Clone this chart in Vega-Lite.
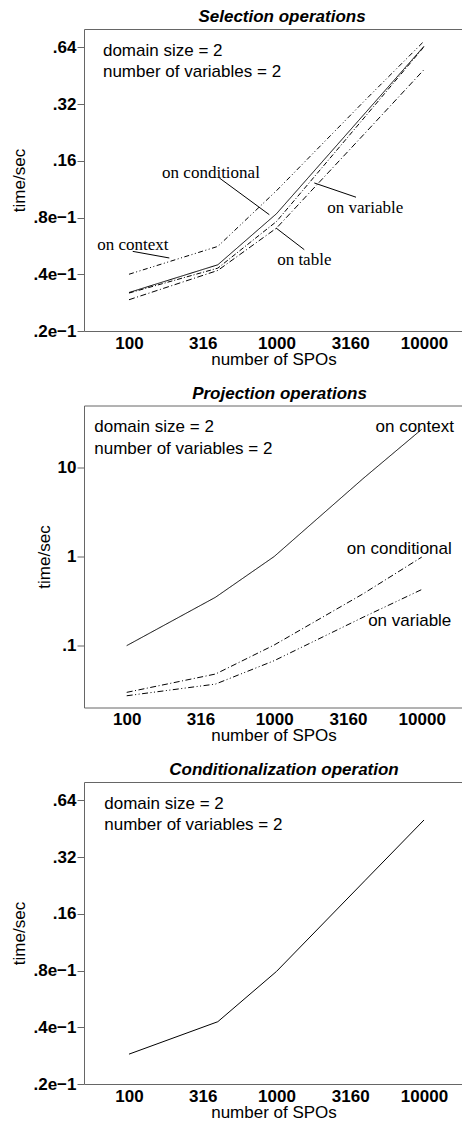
{
  "$schema": "https://vega.github.io/schema/vega-lite/v6.json",
  "autosize": {"type": "pad"},
  "padding": {"left": 10, "top": 8, "right": 0, "bottom": 0},
  "bounds": "flush",
  "spacing": 74.5,
  "resolve": {"scale": {"strokeDash": "independent"}},
  "datasets": {
    "sel": [
      {"n": 100, "t": 0.040, "op": "on context"},
      {"n": 400, "t": 0.0562, "op": "on context"},
      {"n": 1000, "t": 0.111, "op": "on context"},
      {"n": 4000, "t": 0.336, "op": "on context"},
      {"n": 10000, "t": 0.689, "op": "on context"},
      {"n": 100, "t": 0.032, "op": "on conditional"},
      {"n": 400, "t": 0.0449, "op": "on conditional"},
      {"n": 1000, "t": 0.0838, "op": "on conditional"},
      {"n": 4000, "t": 0.287, "op": "on conditional"},
      {"n": 10000, "t": 0.648, "op": "on conditional"},
      {"n": 100, "t": 0.0318, "op": "on variable"},
      {"n": 400, "t": 0.0431, "op": "on variable"},
      {"n": 1000, "t": 0.0762, "op": "on variable"},
      {"n": 4000, "t": 0.275, "op": "on variable"},
      {"n": 10000, "t": 0.644, "op": "on variable"},
      {"n": 100, "t": 0.0293, "op": "on table"},
      {"n": 400, "t": 0.0419, "op": "on table"},
      {"n": 1000, "t": 0.0703, "op": "on table"},
      {"n": 4000, "t": 0.225, "op": "on table"},
      {"n": 10000, "t": 0.487, "op": "on table"}
    ],
    "selInfo": [
      {"n": 66.6, "t": 0.614, "label": "domain size = 2"},
      {"n": 66.6, "t": 0.473, "label": "number of variables = 2"}
    ],
    "selLabels": [
      {"n": 359.6, "t": 0.1377, "label": "on conditional"},
      {"n": 106.1, "t": 0.0570, "label": "on context"},
      {"n": 4000, "t": 0.0897, "label": "on variable"},
      {"n": 1543, "t": 0.0478, "label": "on table"}
    ],
    "selLeaders": [
      {"n": 409.6, "t": 0.1297, "n2": 893.9, "t2": 0.0828},
      {"n": 106, "t": 0.0529, "n2": 187.6, "t2": 0.0488},
      {"n": 3459, "t": 0.1025, "n2": 1804, "t2": 0.1220},
      {"n": 1543, "t": 0.0540, "n2": 992, "t2": 0.0704}
    ],
    "proj": [
      {"n": 100, "t": 0.0993, "op": "on context"},
      {"n": 400, "t": 0.348, "op": "on context"},
      {"n": 1000, "t": 1.0, "op": "on context"},
      {"n": 4000, "t": 7.52, "op": "on context"},
      {"n": 10000, "t": 27, "op": "on context"},
      {"n": 100, "t": 0.0296, "op": "on conditional"},
      {"n": 400, "t": 0.0476, "op": "on conditional"},
      {"n": 1000, "t": 0.101, "op": "on conditional"},
      {"n": 4000, "t": 0.38, "op": "on conditional"},
      {"n": 10000, "t": 0.985, "op": "on conditional"},
      {"n": 100, "t": 0.0271, "op": "on variable"},
      {"n": 400, "t": 0.0367, "op": "on variable"},
      {"n": 1000, "t": 0.0673, "op": "on variable"},
      {"n": 4000, "t": 0.207, "op": "on variable"},
      {"n": 10000, "t": 0.425, "op": "on variable"}
    ],
    "projInfo": [
      {"n": 60.3, "t": 28.8, "label": "domain size = 2"},
      {"n": 60.3, "t": 16.4, "label": "number of variables = 2"}
    ],
    "projLabels": [
      {"n": 8966, "t": 28.8, "label": "on context"},
      {"n": 7047, "t": 1.221, "label": "on conditional"},
      {"n": 8290, "t": 0.19, "label": "on variable"}
    ],
    "cond": [
      {"n": 100, "t": 0.0288},
      {"n": 400, "t": 0.0428},
      {"n": 1000, "t": 0.0791},
      {"n": 4000, "t": 0.241},
      {"n": 10000, "t": 0.503}
    ],
    "condInfo": [
      {"n": 68, "t": 0.6095, "label": "domain size = 2"},
      {"n": 68, "t": 0.4718, "label": "number of variables = 2"}
    ]
  },
  "vconcat": [
    {
      "title": {"text": "Selection operations", "dx": 8.5},
      "width": 379,
      "height": 302,
      "resolve": {"axis": {"x": "independent"}},
      "layer": [
        {
          "data": {"name": "sel"},
          "mark": {"type": "line", "color": "black", "strokeWidth": 1},
          "encoding": {
            "x": {"field": "n", "type": "quantitative", "scale": {"type": "log", "domain": [49.54, 18380], "nice": false},
                  "axis": {"values": [100, 316, 1000, 3160, 10000], "format": "d", "title": "number of SPOs"}},
            "y": {"field": "t", "type": "quantitative", "scale": {"type": "log", "domain": [0.02, 0.8], "nice": false},
                  "axis": {"values": [0.02, 0.04, 0.08, 0.16, 0.32, 0.64], "title": "time/sec",
                           "labelExpr": "datum.value < 0.1 ? '.' + round(datum.value*100) + 'e\u22121' : '.' + round(datum.value*100)"}},
            "strokeDash": {"field": "op", "type": "nominal", "legend": null,
                           "scale": {"domain": ["on context", "on conditional", "on variable", "on table"],
                                     "range": [[5, 2.5, 1, 2.5, 1, 2.5], [1, 0], [5, 2, 1, 2], [6, 2.5, 1, 2.5]]}}
          }
        },
        {
          "data": {"name": "selInfo"},
          "mark": {"type": "text", "align": "left", "baseline": "middle", "font": "Liberation Sans", "fontSize": 17, "color": "black"},
          "encoding": {
            "x": {"field": "n", "type": "quantitative", "scale": {"type": "log", "domain": [49.54, 18380], "nice": false},
                  "axis": {"orient": "top", "labels": false, "ticks": false, "title": null, "domain": true}},
            "y": {"field": "t", "type": "quantitative"},
            "text": {"field": "label"}
          }
        },
        {
          "data": {"name": "selLabels"},
          "mark": {"type": "text", "align": "center", "baseline": "middle", "font": "Liberation Serif", "fontSize": 17, "color": "black"},
          "encoding": {
            "x": {"field": "n", "type": "quantitative", "axis": null},
            "y": {"field": "t", "type": "quantitative"},
            "text": {"field": "label"}
          }
        },
        {
          "data": {"name": "selLeaders"},
          "mark": {"type": "rule", "color": "black", "strokeWidth": 1},
          "encoding": {
            "x": {"field": "n", "type": "quantitative", "axis": null},
            "y": {"field": "t", "type": "quantitative"},
            "x2": {"field": "n2"},
            "y2": {"field": "t2"}
          }
        }
      ]
    },
    {
      "title": {"text": "Projection operations", "dx": 6},
      "width": 379,
      "height": 302,
      "resolve": {"axis": {"x": "independent"}},
      "layer": [
        {
          "data": {"name": "proj"},
          "mark": {"type": "line", "color": "black", "strokeWidth": 1},
          "encoding": {
            "x": {"field": "n", "type": "quantitative", "scale": {"type": "log", "domain": [51.35, 19040], "nice": false},
                  "axis": {"values": [100, 316, 1000, 3160, 10000], "format": "d", "title": "number of SPOs"}},
            "y": {"field": "t", "type": "quantitative", "scale": {"type": "log", "domain": [0.02, 50], "nice": false},
                  "axis": {"values": [0.1, 1, 10], "title": "time/sec",
                           "labelExpr": "datum.value < 1 ? '.1' : format(datum.value, 'd')"}},
            "strokeDash": {"field": "op", "type": "nominal", "legend": null,
                           "scale": {"domain": ["on context", "on conditional", "on variable"],
                                     "range": [[1, 0], [6, 2.5, 1, 2.5], [6, 2.5, 1, 2.5, 1, 2.5]]}}
          }
        },
        {
          "data": {"name": "projInfo"},
          "mark": {"type": "text", "align": "left", "baseline": "middle", "font": "Liberation Sans", "fontSize": 17, "color": "black"},
          "encoding": {
            "x": {"field": "n", "type": "quantitative", "scale": {"type": "log", "domain": [51.35, 19040], "nice": false},
                  "axis": {"orient": "top", "labels": false, "ticks": false, "title": null, "domain": true}},
            "y": {"field": "t", "type": "quantitative"},
            "text": {"field": "label"}
          }
        },
        {
          "data": {"name": "projLabels"},
          "mark": {"type": "text", "align": "center", "baseline": "middle", "font": "Liberation Sans", "fontSize": 17, "color": "black"},
          "encoding": {
            "x": {"field": "n", "type": "quantitative", "axis": null},
            "y": {"field": "t", "type": "quantitative"},
            "text": {"field": "label"}
          }
        }
      ]
    },
    {
      "title": {"text": "Conditionalization operation", "dx": 10.5},
      "width": 379,
      "height": 302,
      "resolve": {"axis": {"x": "independent"}},
      "layer": [
        {
          "data": {"name": "cond"},
          "mark": {"type": "line", "color": "black", "strokeWidth": 1},
          "encoding": {
            "x": {"field": "n", "type": "quantitative", "scale": {"type": "log", "domain": [49.54, 18380], "nice": false},
                  "axis": {"values": [100, 316, 1000, 3160, 10000], "format": "d", "title": "number of SPOs"}},
            "y": {"field": "t", "type": "quantitative", "scale": {"type": "log", "domain": [0.02, 0.8], "nice": false},
                  "axis": {"values": [0.02, 0.04, 0.08, 0.16, 0.32, 0.64], "title": "time/sec",
                           "labelExpr": "datum.value < 0.1 ? '.' + round(datum.value*100) + 'e\u22121' : '.' + round(datum.value*100)"}}
          }
        },
        {
          "data": {"name": "condInfo"},
          "mark": {"type": "text", "align": "left", "baseline": "middle", "font": "Liberation Sans", "fontSize": 17, "color": "black"},
          "encoding": {
            "x": {"field": "n", "type": "quantitative", "scale": {"type": "log", "domain": [49.54, 18380], "nice": false},
                  "axis": {"orient": "top", "labels": false, "ticks": false, "title": null, "domain": true}},
            "y": {"field": "t", "type": "quantitative"},
            "text": {"field": "label"}
          }
        }
      ]
    }
  ],
  "config": {
    "view": {"stroke": null},
    "title": {"font": "Liberation Sans", "fontSize": 17, "fontWeight": "bold", "fontStyle": "italic", "color": "black", "anchor": "middle", "baseline": "alphabetic", "offset": 3},
    "axis": {"labelFont": "Liberation Sans", "labelFontSize": 17, "labelFontWeight": "bold", "labelColor": "black",
             "titleFont": "Liberation Sans", "titleFontSize": 17, "titleFontWeight": "normal", "titleColor": "black",
             "domainColor": "#666", "tickColor": "#666", "grid": false, "labelOverlap": false},
    "axisX": {"ticks": false, "tickSize": 0, "labelPadding": 4, "titlePadding": 0, "labelFlush": false},
    "axisY": {"tickSize": 7, "labelPadding": 1, "titlePadding": 4}
  }
}
